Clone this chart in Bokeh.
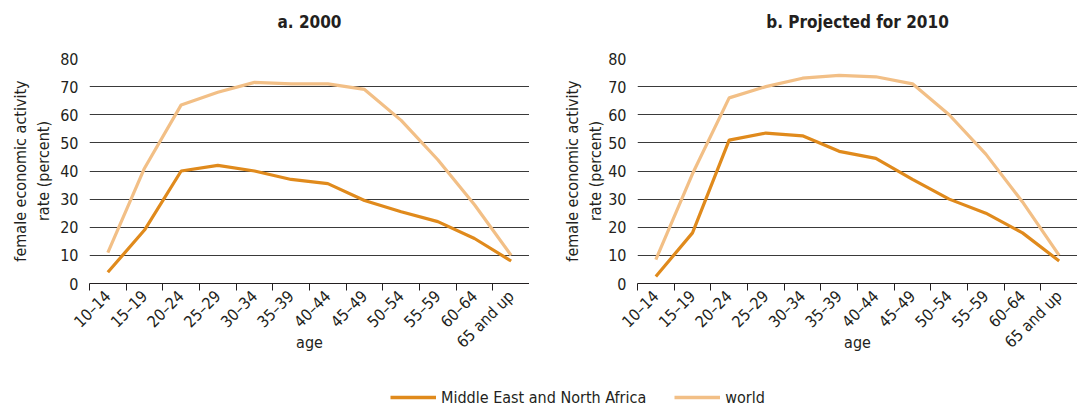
import math
from bokeh.plotting import figure
from bokeh.layouts import column, row
from bokeh.models import FixedTicker, Range1d, Legend, LegendItem, Title
from bokeh.embed import file_html
from bokeh.resources import INLINE

ages = ["10–14", "15–19", "20–24", "25–29", "30–34", "35–39", "40–44",
        "45–49", "50–54", "55–59", "60–64", "65 and up"]
mena_2000 = [4, 19, 40, 42, 40, 37, 35.5, 29.5, 25.5, 22, 16, 8]
world_2000 = [11, 41, 63.5, 68, 71.5, 71, 71, 69, 58, 44, 28, 10]
mena_2010 = [2.5, 18, 51, 53.5, 52.5, 47, 44.5, 37, 30, 25, 18, 8]
world_2010 = [8.5, 39, 66, 70, 73, 74, 73.5, 71, 60, 46, 29, 10]
titles = ["a. 2000", "b. Projected for 2010"]
series_names = ["Middle East and North Africa", "world"]
y_ticks = [0, 10, 20, 30, 40, 50, 60, 70, 80]

C_MENA = "#E08A1C"
C_WORLD = "#F2BF86"
FONT = "DejaVu Sans Condensed"
TXT = "#231F20"

xs = [i + 0.5 for i in range(len(ages))]


def make_panel(title, mena, world, border_left, border_right, ylab_standoff):
    p = figure(frame_width=440, frame_height=225, output_backend="svg", toolbar_location=None,
               x_range=Range1d(0, len(ages)), y_range=Range1d(0, 80),
               min_border_left=border_left, min_border_right=border_right,
               min_border_top=58, min_border_bottom=10)
    p.outline_line_color = None
    p.title.visible = False
    spacer = Title(text=" ", text_font=FONT, text_font_size="22px", standoff=0)
    p.add_layout(spacer, "above")
    t = Title(text=title, align="center", text_font=FONT, text_font_size="17px",
              text_font_style="bold", text_color=TXT, standoff=0)
    p.add_layout(t, "above")

    p.line(xs, mena, line_color=C_MENA, line_width=3.2)
    p.line(xs, world, line_color=C_WORLD, line_width=3.2)

    xa = p.xaxis[0]
    xa.ticker = FixedTicker(ticks=xs, minor_ticks=list(range(len(ages) + 1)))
    xa.major_label_overrides = {x: a for x, a in zip(xs, ages)}
    xa.major_label_orientation = math.pi / 4
    xa.major_tick_line_color = None
    xa.minor_tick_in = 0
    xa.minor_tick_out = 7
    xa.minor_tick_line_color = "#231F20"
    xa.axis_line_color = "#231F20"
    xa.axis_line_width = 1.2
    xa.major_label_text_font = FONT
    xa.major_label_text_font_size = "16px"
    xa.major_label_text_color = TXT
    xa.major_label_standoff = 3
    xa.axis_label = "age"
    xa.axis_label_text_font = FONT
    xa.axis_label_text_font_size = "16px"
    xa.axis_label_text_font_style = "normal"
    xa.axis_label_text_color = TXT
    xa.axis_label_standoff = -28

    ya = p.yaxis[0]
    ya.ticker = FixedTicker(ticks=y_ticks)
    ya.axis_line_color = None
    ya.major_tick_line_color = None
    ya.minor_tick_line_color = None
    ya.major_label_text_font = FONT
    ya.major_label_text_font_size = "16px"
    ya.major_label_text_color = TXT
    ya.major_label_standoff = 5
    ya.axis_label = "female economic activity\nrate (percent)"
    ya.axis_label_text_font = FONT
    ya.axis_label_text_font_size = "16px"
    ya.axis_label_text_font_style = "normal"
    ya.axis_label_text_color = TXT
    ya.axis_label_standoff = ylab_standoff

    p.xgrid.grid_line_color = None
    p.ygrid.ticker = FixedTicker(ticks=y_ticks)
    p.ygrid.grid_line_color = "#3a3a3a"
    p.ygrid.grid_line_width = 1.1
    return p


p1 = make_panel(titles[0], mena_2000, world_2000, 89, 0, 4)
p2 = make_panel(titles[1], mena_2010, world_2010, 108, 0, 0)

pl = figure(width=1077, height=52, output_backend="svg", toolbar_location=None,
            x_range=Range1d(0, 1), y_range=Range1d(0, 1),
            min_border=0)
pl.outline_line_color = None
pl.axis.visible = False
pl.grid.visible = False
r1 = pl.line([-5, -4], [-5, -4], line_color=C_MENA, line_width=3.5)
r2 = pl.line([-5, -4], [-5, -4], line_color=C_WORLD, line_width=3.5)
leg = Legend(items=[LegendItem(label=series_names[0], renderers=[r1]),
                    LegendItem(label=series_names[1], renderers=[r2])],
             orientation="horizontal", location=(390, 0),
             border_line_color=None, background_fill_alpha=0,
             label_text_font=FONT, label_text_font_size="16px",
             label_text_color=TXT, glyph_width=46, spacing=28,
             label_standoff=5, padding=0, margin=0)
pl.add_layout(leg, "center")

layout = column(row(p1, p2, spacing=0), pl, spacing=0)
open("out.html", "w").write(file_html(layout, INLINE))
